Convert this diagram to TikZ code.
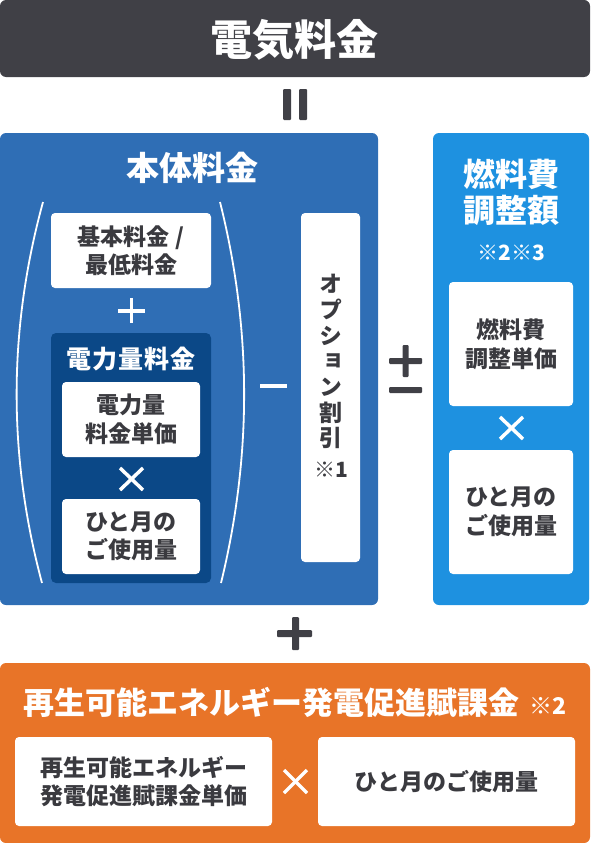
\documentclass[tikz,border=0pt]{standalone}
\usepackage{fontspec}
\setmainfont{Noto Sans CJK JP}
\newfontfamily\jpv[RawFeature=+vert]{Noto Sans CJK JP}
\definecolor{darkgrey}{HTML}{404046}
\definecolor{mainblue}{HTML}{2F6EB5}
\definecolor{navy}{HTML}{0B4887}
\definecolor{lightblue}{HTML}{1E91E0}
\definecolor{orangebg}{HTML}{E87428}
\definecolor{txtgrey}{HTML}{3A3A3F}
\tikzset{
  panel/.style={rounded corners=6pt, inner sep=0pt, draw=none},
  wbox/.style={rounded corners=4pt, fill=white, inner sep=0pt, draw=none, align=center,
     text=txtgrey, font=\bfseries\fontsize{23}{28.5}\selectfont},
  wtitle/.style={text=white, inner sep=0pt, align=center},
  opdark/.style={fill=darkgrey, rounded corners=1pt},
  opwhite/.style={white, line width=3.5pt},
  paren/.style={white, line width=1.8pt}
}
\begin{document}
\begin{tikzpicture}[x=1pt,y=-1pt]
\useasboundingbox (0,0) rectangle (590,843);

% top bar
\node[panel, fill=darkgrey, minimum width=590pt, minimum height=77pt] (total) at (295,38.5) {};
\node[wtitle, font=\bfseries\fontsize{42}{42}\selectfont] (totalT) at (294.5,39.5) {電気料金};

% equals (rotated)
\fill[opdark] (283,89) rectangle (291,120);
\fill[opdark] (299,89) rectangle (307,120);

% main blue panel
\node[panel, fill=mainblue, minimum width=378pt, minimum height=472pt] (main) at (189,369) {};
\node[wtitle, font=\bfseries\fontsize{33}{33}\selectfont] (mainT) at (192,168) {本体料金};

% parentheses
\coordinate (lpT) at (43,202);
\coordinate (lpB) at (42,583);
\coordinate (rpT) at (220,202);
\coordinate (rpB) at (221,583);
\draw[paren] (lpT) .. controls (8,330) and (8,456) .. (lpB);
\draw[paren] (rpT) .. controls (252,330) and (252,456) .. (rpB);

% basic charge
\node[wbox, minimum width=160pt, minimum height=75pt] (basic) at (131,250.5) {基本料金 /\\最低料金};

% plus (white)
\draw[opwhite] (118,311) -- (145,311);
\draw[opwhite] (131.5,298) -- (131.5,323);

% energy charge panel
\node[panel, rounded corners=5pt, fill=navy, minimum width=160pt, minimum height=250pt] (energy) at (131,458) {};
\node[wtitle, font=\bfseries\fontsize{25}{25}\selectfont] (energyT) at (131,359) {電\hspace{1pt}力\hspace{1pt}量\hspace{1pt}料\hspace{1pt}金};
\node[wbox, minimum width=138pt, minimum height=75pt] (unit) at (131,419.5) {電力量\\料金単価};
\draw[opwhite] (120,468) -- (143,490);
\draw[opwhite] (143,468) -- (120,490);
\node[wbox, minimum width=138pt, minimum height=75pt] (usage1) at (131,536.5) {ひと月の\\ご使用量};

% minus (white)
\fill[white] (260,384) rectangle (287,388);

% option discount (vertical)
\node[panel, rounded corners=4pt, fill=white, minimum width=59pt, minimum height=349pt] (option) at (330.5,387.5) {};
\node[inner sep=0pt, align=center, text=txtgrey, font=\jpv\bfseries\fontsize{23}{25.7}\selectfont] (optionT) at (331,376)
  {オ\\プ\\シ\\ョ\\ン\\割\\引\\[5pt]{\fontsize{21}{21}\selectfont ※1}};

% plus-minus
\fill[opdark] (389,358) rectangle (422,364);
\fill[opdark] (402.5,345) rectangle (408.5,377);
\fill[opdark] (389,387) rectangle (422,393);

% fuel panel
\node[panel, fill=lightblue, minimum width=156pt, minimum height=472pt] (fuel) at (511,369) {};
\node[wtitle, font=\bfseries\fontsize{32}{36}\selectfont] (fuelT) at (511.5,192) {燃料費\\調整額};
\node[wtitle, font=\bfseries\fontsize{21}{21}\selectfont] (fuelN) at (511.5,252.5) {※2※3};
\node[wbox, minimum width=124pt, minimum height=124pt] (fuelU) at (511,344) {燃料費\\調整単価};
\draw[opwhite] (500,417) -- (523,439);
\draw[opwhite] (523,417) -- (500,439);
\node[wbox, minimum width=124pt, minimum height=124pt] (usage2) at (511,512) {ひと月の\\ご使用量};

% plus (dark)
\fill[opdark] (277,630) rectangle (312,637);
\fill[opdark] (292,617) rectangle (299,650);

% renewable panel
\node[panel, fill=orangebg, minimum width=590pt, minimum height=180pt] (renew) at (295,753) {};
\node[wtitle, font=\bfseries\fontsize{31}{31}\selectfont] (renewT) at (295,702)
  {再生可能エネルギー発電促進賦課金\hspace{10pt}{\fontsize{23}{23}\selectfont ※2}};
\node[wbox, minimum width=257pt, minimum height=89pt] (renewU) at (143.5,781.5) {再生可能エネルギー\\発電促進賦課金単価};
\draw[opwhite] (284,770) -- (307,793);
\draw[opwhite] (307,770) -- (284,793);
\node[wbox, minimum width=257pt, minimum height=89pt] (usage3) at (446.5,781.5) {ひと月のご使用量};
\end{tikzpicture}
\end{document}
